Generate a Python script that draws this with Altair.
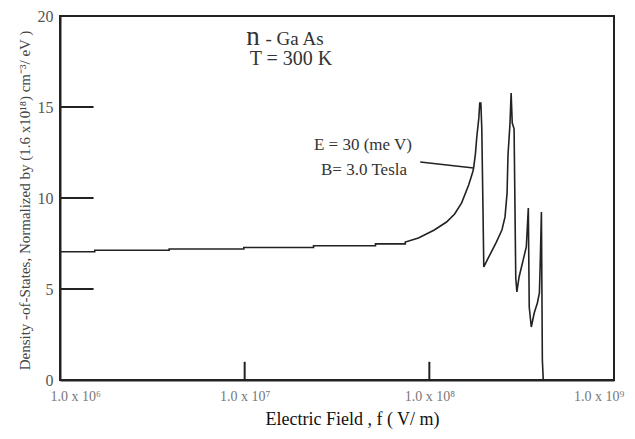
import altair as alt
import pandas as pd

# Electric field f (V/m) and normalized density of states
field = [1.0e6, 1.542e6, 1.542e6, 3.90e6, 3.90e6, 9.89e6, 9.89e6, 2.36e7, 2.36e7,
         5.11e7, 5.11e7, 7.41e7, 7.41e7, 8.73e7, 1.064e8, 1.239e8, 1.371e8, 1.496e8,
         1.633e8, 1.718e8, 1.738e8, 1.778e8, 1.807e8, 1.854e8, 1.875e8, 1.901e8,
         1.923e8, 1.950e8, 1.972e8,
         2.099e8, 2.296e8, 2.472e8, 2.570e8, 2.636e8, 2.667e8, 2.735e8, 2.773e8,
         2.812e8, 2.877e8, 2.938e8, 2.979e8,
         3.062e8, 3.221e8, 3.350e8, 3.388e8, 3.436e8, 3.475e8, 3.565e8,
         3.698e8, 3.846e8, 3.945e8, 3.990e8, 4.045e8, 4.093e8, 4.140e8]
dos = [7.05, 7.05, 7.13, 7.13, 7.20, 7.20, 7.28, 7.28, 7.38,
       7.38, 7.48, 7.48, 7.58, 7.80, 8.24, 8.68, 9.12, 9.73,
       10.71, 11.43, 11.65, 12.47, 13.35, 14.40, 15.22, 15.22,
       13.85, 9.73, 6.21,
       6.76, 7.53, 8.24, 8.96, 10.27, 12.36, 14.12, 15.77,
       14.12, 13.80, 5.60, 4.84,
       5.66, 6.59, 7.31, 8.24, 9.45, 4.01, 2.91,
       3.68, 4.23, 4.78, 6.59, 9.23, 1.10, 0.0]

# leader line of the annotation
leader_f = [8.93e7, 1.738e8]
leader_y = [11.98, 11.65]

# annotations
ann_text = ["n", "- Ga As", "T = 300 K", "E = 30 (me V)", "B= 3.0 Tesla"]
ann_f = [1.11e7, 1.862e7, 1.78e7, 4.37e7, 4.43e7]
ann_y = [18.41, 18.41, 17.31, 12.64, 11.26]
ann_size = [27, 19, 20, 17, 17]

# inward ticks
y_tick_vals = [5, 10, 15]
y_tick_len_end = 1.52e6
x_tick_vals = [1e7, 1e8]
x_tick_len_top = 1.0

x_axis_vals = [1e6, 1e7, 1e8, 1e9]
y_axis_vals = [0, 5, 10, 15, 20]

SERIF = "Liberation Serif"
INK = "#222222"

xscale = alt.Scale(type="log", domain=[1e6, 1e9], nice=False)
yscale = alt.Scale(domain=[0, 20], nice=False, zero=False)

curve_df = pd.DataFrame({"f": field, "dos": dos, "i": list(range(len(field)))})
leader_df = pd.DataFrame({"f": leader_f, "dos": leader_y, "i": [0, 1]})
ann_df = pd.DataFrame({"t": ann_text, "f": ann_f, "dos": ann_y, "fs": ann_size})
ytick_df = pd.DataFrame({"dos": y_tick_vals, "f": [1e6] * 3, "f1": [y_tick_len_end] * 3})
xtick_df = pd.DataFrame({"f": x_tick_vals, "dos": [0, 0], "dos1": [x_tick_len_top] * 2})

label_expr = ("datum.value < 5e6 ? '1.0 x 10\u2076' : datum.value < 5e7 ? '1.0 x 10\u2077' : "
              "datum.value < 5e8 ? '1.0 x 10\u2078' : '1.0 x 10\u2079'")

XTITLE = "Electric Field , f ( V/ m)"
YTITLE = "Density -of-States, Normalized by (1.6 x10\u00b9\u2078) cm\u207b\u00b3/ eV )"

xaxis = alt.Axis(values=x_axis_vals, labelExpr=label_expr, ticks=False, grid=False,
                 labelPadding=9, labelFont=SERIF, labelFontSize=14, labelColor="#777777",
                 labelFlush=True, labelFlushOffset=10,
                 domainColor=INK, domainWidth=2,
                 title=XTITLE, titleFont=SERIF, titleFontSize=18,
                 titleFontWeight="normal", titleColor="#111111",
                 titleAnchor="start", titleAlign="center", titleBaseline="middle",
                 titleX=292, titleY=39)
yaxis = alt.Axis(values=y_axis_vals, ticks=False, grid=False, labelPadding=7,
                 labelFont=SERIF, labelFontSize=16, labelColor="#555555",
                 domainColor=INK, domainWidth=2,
                 title=YTITLE, titleFont=SERIF, titleFontSize=15, titleFontWeight="normal",
                 titleColor="#444444", titleAngle=-90, titleAlign="center",
                 titleBaseline="middle", titleX=-36, titleY=184)

X = alt.X("f:Q", scale=xscale, axis=xaxis, title=XTITLE)
Y = alt.Y("dos:Q", scale=yscale, axis=yaxis, title=YTITLE)

curve = alt.Chart(curve_df).mark_line(color=INK, strokeWidth=1.6).encode(
    x=X, y=Y, order="i:Q",
)

leader = alt.Chart(leader_df).mark_line(color=INK, strokeWidth=1.4).encode(
    x=X, y=Y, order="i:Q",
)

yticks = alt.Chart(ytick_df).mark_rule(color=INK, strokeWidth=2).encode(
    x=X, x2="f1:Q", y=Y,
)

xticks = alt.Chart(xtick_df).mark_rule(color=INK, strokeWidth=2).encode(
    x=X, y=Y, y2="dos1:Q",
)

texts = alt.Chart(ann_df).mark_text(font=SERIF, color="#333333", align="center",
                                     baseline="alphabetic").encode(
    x=X, y=Y,
    text="t:N",
    size=alt.Size("fs:Q", scale=None, legend=None),
)

chart = alt.layer(curve, leader, yticks, xticks, texts).properties(
    width=554,
    height=364,
    background="white",
    autosize=alt.AutoSizeParams(type="none"),
    padding={"left": 52, "top": 8, "right": 11, "bottom": 51},
).configure_view(stroke=INK, strokeWidth=2)

chart.save("out.html", embed_options={"renderer": "svg", "actions": False})
